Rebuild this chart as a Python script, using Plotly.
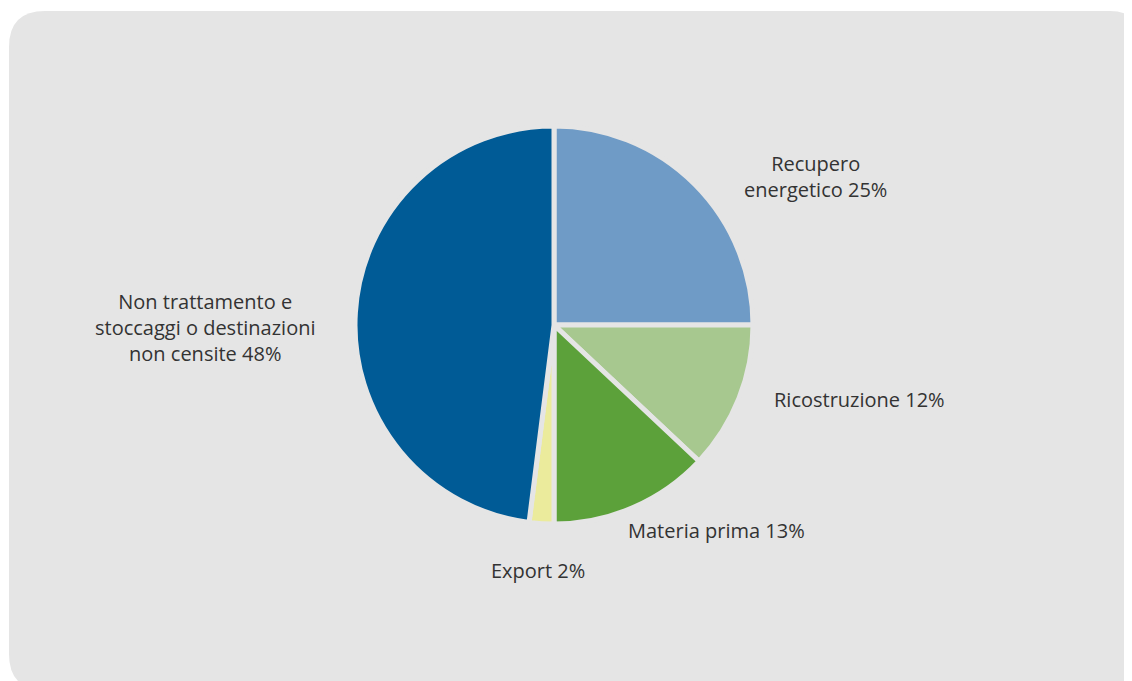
import plotly.graph_objects as go

# ---- data ----
categories = ["Recupero energetico", "Ricostruzione", "Materia prima", "Export",
              "Non trattamento e stoccaggi o destinazioni non censite"]
values = [25, 12, 13, 2, 48]
label_lines = [
    ["Recupero", "energetico {v}%"],
    ["Ricostruzione {v}%"],
    ["Materia prima {v}%"],
    ["Export {v}%"],
    ["Non trattamento e", "stoccaggi o destinazioni", "non censite {v}%"],
]
colors = ["#6f9bc6", "#a7c88f", "#5ca13a", "#ebeb9c", "#005b96"]

# page body has an 8px margin; the figure fills the rest of the window
OFF = 8
W, H = 1132 - OFF, 681 - OFF
PANEL = "#e5e5e5"

def px(x):
    return (x - OFF) / W

def py(y):
    return 1 - (y - OFF) / H

# pie geometry in window pixels
cx, cy, r = 554, 325, 199

fig = go.Figure(go.Pie(
    labels=categories,
    values=values,
    sort=False,
    direction="clockwise",
    rotation=0,
    marker=dict(colors=colors, line=dict(color=PANEL, width=5)),
    textinfo="none",
    hoverinfo="label+percent",
    showlegend=False,
    domain=dict(x=[px(cx - r), px(cx + r)], y=[py(cy + r), py(cy - r)]),
))

# rounded gray panel (window pixel coords)
x0, y0, x1, y1 = 9, 11, 1140, 690
rtl, rtr, rbl = 36, 30, 36
path = (
    f"M {px(x0)},{py(y0 + rtl)} "
    f"Q {px(x0)},{py(y0)} {px(x0 + rtl)},{py(y0)} "
    f"L {px(x1 - rtr)},{py(y0)} "
    f"Q {px(x1)},{py(y0)} {px(x1)},{py(y0 + rtr)} "
    f"L {px(x1)},{py(y1)} "
    f"L {px(x0 + rbl)},{py(y1)} "
    f"Q {px(x0)},{py(y1)} {px(x0)},{py(y1 - rbl)} Z"
)
fig.add_shape(type="path", path=path, xref="paper", yref="paper",
              fillcolor=PANEL, line=dict(width=0), layer="below")

# label anchor positions (window pixels)
label_pos = [(815, 176), (859, 399), (716, 530), (538, 570), (205, 327)]
for lines, v, (lx, ly) in zip(label_lines, values, label_pos):
    text = "<br>".join(l.format(v=v) for l in lines)
    fig.add_annotation(x=px(lx), y=py(ly), xref="paper", yref="paper",
                       text=text, showarrow=False, align="center",
                       xanchor="center", yanchor="middle",
                       font=dict(family="Open Sans", size=20, color="#333333"))

fig.update_layout(
    width=W, height=H,
    margin=dict(l=0, r=0, t=0, b=0),
    paper_bgcolor="white",
    plot_bgcolor="white",
)

fig.write_html("out.html", post_script="document.body.style.overflow='hidden';")
